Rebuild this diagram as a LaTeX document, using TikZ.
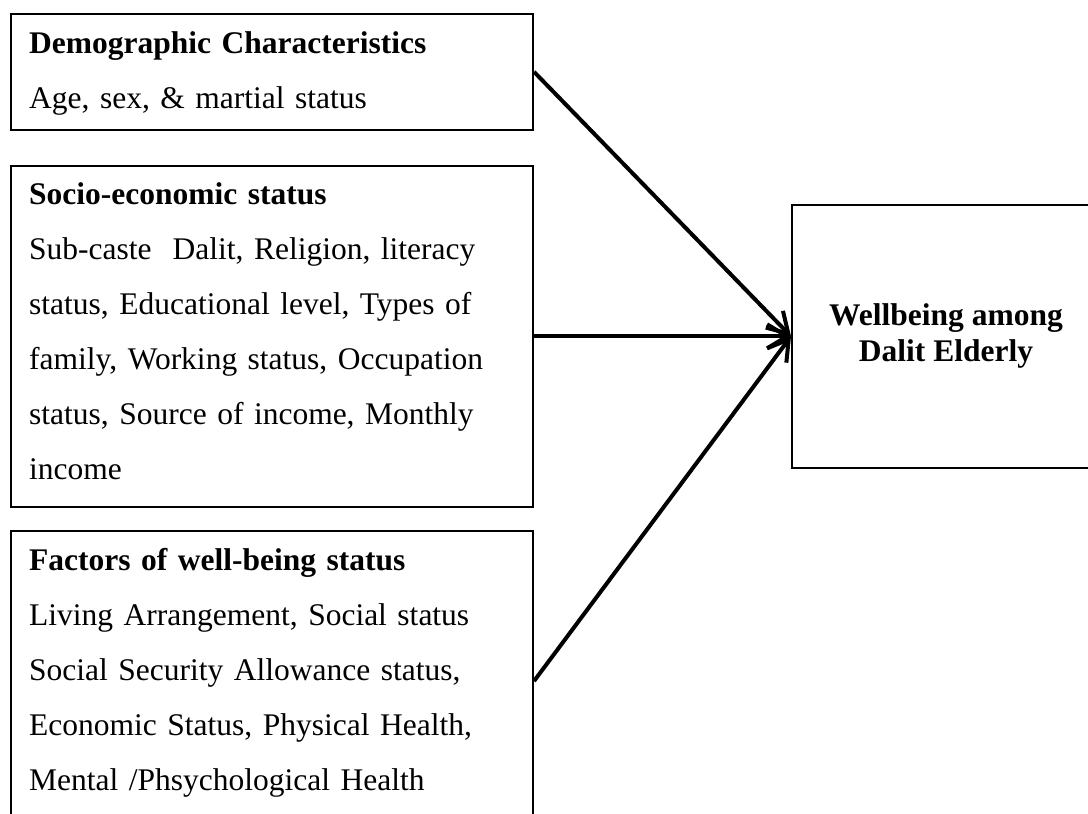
\documentclass[tikz,border=0pt]{standalone}
\usepackage{fontspec}
\setmainfont{Liberation Serif}
\usetikzlibrary{positioning,calc,arrows.meta}

\begin{document}
\begin{tikzpicture}[x=1pt, y=-1pt,
        factor/.style={draw, line width=2pt, rectangle, minimum width=522pt, anchor=north west},
        factortext/.style={anchor=base west, inner sep=0pt, text width=500pt, align=left, font=\fontsize{31.5}{55}\selectfont},
        outcome/.style={draw, line width=2pt, rectangle, minimum width=308pt, minimum height=263pt, align=center, font=\fontsize{31.5}{36}\selectfont\bfseries},
        link/.style={->, line width=4pt},
        >={Straight Barb[length=20pt,width=24pt]}
    ]
        \useasboundingbox (0,0) rectangle (1088,814);

        % the three groups of factors
        \node [factor, minimum height=115.6pt] (demo) at (10,13) {};
        \node [factor, minimum height=341.5pt, below=34pt of demo] (socio) {};
        \node [factor, minimum height=300pt, below=22pt of socio] (wellfac) {};

        \node [factortext] (demo-text) at ($(demo.north west)+(19,40)$)
            {\textbf{Demographic Characteristics}\\Age, sex, \& martial status};
        \node [factortext] (socio-text) at ($(socio.north west)+(19,40)$)
            {\textbf{Socio-economic status}\\Sub-caste~~Dalit, Religion, literacy\\status, Educational level, Types of\\family, Working status, Occupation\\status, Source of income, Monthly\\income};
        \node [factortext] (wellfac-text) at ($(wellfac.north west)+(19,40)$)
            {\textbf{Factors of well-being status}\\Living Arrangement, Social status\\Social Security Allowance status,\\Economic Status, Physical Health,\\Mental /Phsychological Health};

        % outcome
        \node [outcome, right=257pt of socio] (wellbeing) {Wellbeing among\\Dalit Elderly};

        \draw [link] (demo.east) -- (wellbeing.west);
        \draw [link] (socio.east) -- (wellbeing.west);
        \draw [link] (wellfac.east) -- (wellbeing.west);
    \end{tikzpicture}
\end{document}
